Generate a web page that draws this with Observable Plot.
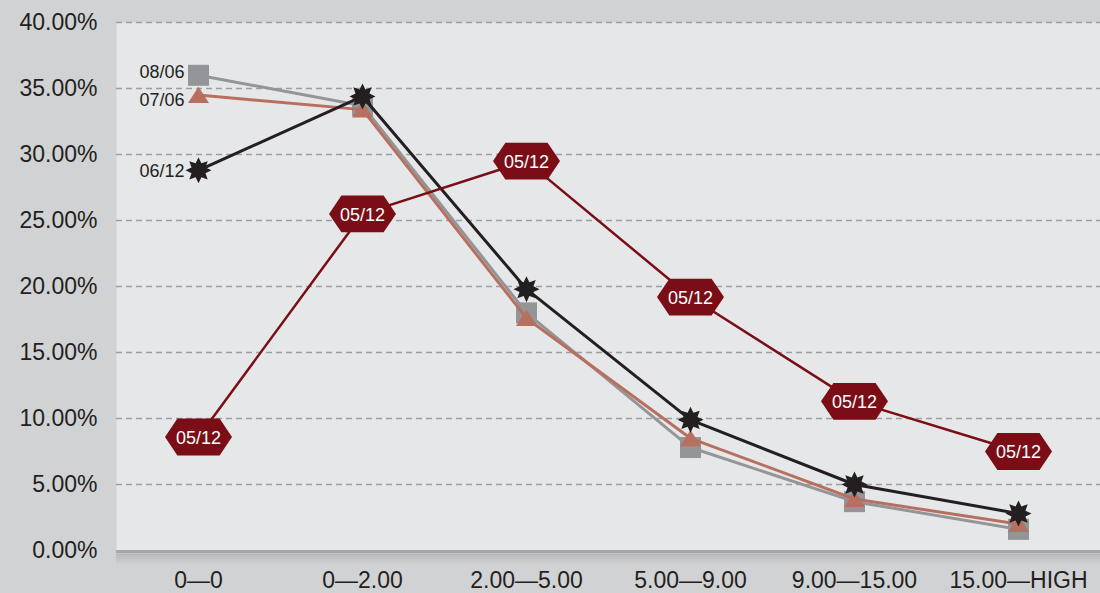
<!DOCTYPE html>
<html>
<head>
<meta charset="utf-8">
<script src="https://cdn.jsdelivr.net/npm/d3@7"></script>
<script src="https://cdn.jsdelivr.net/npm/@observablehq/plot@0.6"></script>
<style>
  html, body { margin: 0; padding: 0; background: #d1d2d4; }
  #chart svg { display: block; }
</style>
</head>
<body>
<div id="chart"></div>
<script>
// ---- data ----
const categories = ["0—0", "0—2.00", "2.00—5.00", "5.00—9.00", "9.00—15.00", "15.00—HIGH"];
const seriesNames = ["08/06", "07/06", "06/12", "05/12"];
const s0806 = [36.0, 33.7, 18.0, 7.8, 3.7, 1.6];
const s0706 = [34.5, 33.4, 17.6, 8.5, 3.9, 2.0];
const s0612 = [28.8, 34.4, 19.8, 9.9, 5.0, 2.8];
const s0512 = [8.6, 25.5, 29.5, 19.2, 11.3, 7.5];
const yTicks = [0, 5, 10, 15, 20, 25, 30, 35, 40];

const toRows = (name, vals) => vals.map((v, i) => ({cat: categories[i], v, name}));
const d0806 = toRows(seriesNames[0], s0806);
const d0706 = toRows(seriesNames[1], s0706);
const d0612 = toRows(seriesNames[2], s0612);
const d0512 = toRows(seriesNames[3], s0512);

const colors = {gray: "#939598", terra: "#b7705f", black: "#231f20", red: "#7a0d16"};

// ---- custom symbols ----
const squareSym = {draw(ctx, size) { const r = Math.sqrt(size / Math.PI); ctx.rect(-r, -r, 2 * r, 2 * r); }};
const triSym = {draw(ctx, size) { const r = Math.sqrt(size / Math.PI); ctx.moveTo(0, -r * 0.8); ctx.lineTo(r, r * 0.75); ctx.lineTo(-r, r * 0.75); ctx.closePath(); }};
const starSym = {draw(ctx, size) {
  const R = Math.sqrt(size / Math.PI), ri = R * 0.58, n = 8;
  for (let k = 0; k < 2 * n; k++) {
    const a = -Math.PI / 2 + k * Math.PI / n, rr = k % 2 ? ri : R;
    const x = rr * Math.cos(a), y = rr * Math.sin(a);
    if (k === 0) ctx.moveTo(x, y); else ctx.lineTo(x, y);
  }
  ctx.closePath();
}};
const hexSym = {draw(ctx, size) {
  const w = Math.sqrt(size / Math.PI), h = w * 0.55, t = w * 0.63;
  ctx.moveTo(-w, 0); ctx.lineTo(-t, -h); ctx.lineTo(t, -h); ctx.lineTo(w, 0); ctx.lineTo(t, h); ctx.lineTo(-t, h); ctx.closePath();
}};

const font = "'Liberation Sans', Arial, Helvetica, sans-serif";
const firstLabel = (vals, name, dy) => Plot.text([{cat: categories[0], v: vals[0], name}],
  {x: "cat", y: "v", text: "name", dx: -14, dy, textAnchor: "end", fontSize: 18, fill: colors.black});

const chart = Plot.plot({
  width: 1100,
  height: 593,
  marginLeft: 116,
  marginRight: 0,
  marginTop: 22,
  marginBottom: 43,
  style: {background: "#d1d2d4", fontFamily: font, overflow: "visible"},
  x: {type: "point", domain: categories, padding: 0.5, label: null},
  y: {domain: [0, 40], label: null},
  marks: [
    Plot.frame({fill: "#e6e7e9", stroke: null}),
    // bottom edge + soft shadow
    Plot.ruleY([0], {stroke: "#9a9c9f", strokeWidth: 2, strokeOpacity: 0.10, dy: 12}),
    Plot.ruleY([0], {stroke: "#9a9c9f", strokeWidth: 2, strokeOpacity: 0.18, dy: 10}),
    Plot.ruleY([0], {stroke: "#9a9c9f", strokeWidth: 2, strokeOpacity: 0.26, dy: 8}),
    Plot.ruleY([0], {stroke: "#9a9c9f", strokeWidth: 2, strokeOpacity: 0.36, dy: 6}),
    Plot.ruleY([0], {stroke: "#9a9c9f", strokeWidth: 2, strokeOpacity: 0.5, dy: 4}),
    Plot.ruleY([0], {stroke: "#a4a6a9", strokeWidth: 3, dy: 1}),
    Plot.ruleY(yTicks.filter(d => d > 0), {stroke: "#9c9ea1", strokeWidth: 1.5, strokeDasharray: "6,4"}),
    Plot.axisY({ticks: yTicks, tickSize: 0, tickPadding: 19, fontSize: 23, fill: colors.black,
      tickFormat: d => d.toFixed(2) + "%", style: {letterSpacing: "2.2px"}}),
    Plot.axisX({tickSize: 0, tickPadding: 21, fontSize: 23, fill: colors.black}),
    // 08/06
    Plot.line(d0806, {x: "cat", y: "v", stroke: colors.gray, strokeWidth: 3}),
    Plot.dot(d0806, {x: "cat", y: "v", symbol: squareSym, r: 10.5, fill: colors.gray, stroke: null}),
    // 07/06
    Plot.line(d0706, {x: "cat", y: "v", stroke: colors.terra, strokeWidth: 3}),
    Plot.dot(d0706, {x: "cat", y: "v", symbol: triSym, r: 10.5, fill: colors.terra, stroke: null}),
    // 06/12
    Plot.line(d0612, {x: "cat", y: "v", stroke: colors.black, strokeWidth: 3}),
    Plot.dot(d0612, {x: "cat", y: "v", symbol: starSym, r: 13, fill: colors.black, stroke: null}),
    // 05/12
    Plot.line(d0512, {x: "cat", y: "v", stroke: colors.red, strokeWidth: 2.5}),
    Plot.dot(d0512, {x: "cat", y: "v", symbol: hexSym, r: 33.5, fill: colors.red, stroke: null}),
    Plot.text(d0512, {x: "cat", y: "v", text: "name", fill: "white", fontSize: 18, dy: 1}),
    // first-point labels
    firstLabel(s0806, seriesNames[0], -3),
    firstLabel(s0706, seriesNames[1], 5),
    firstLabel(s0612, seriesNames[2], 1)
  ]
});

document.getElementById("chart").append(chart);
</script>
</body>
</html>
